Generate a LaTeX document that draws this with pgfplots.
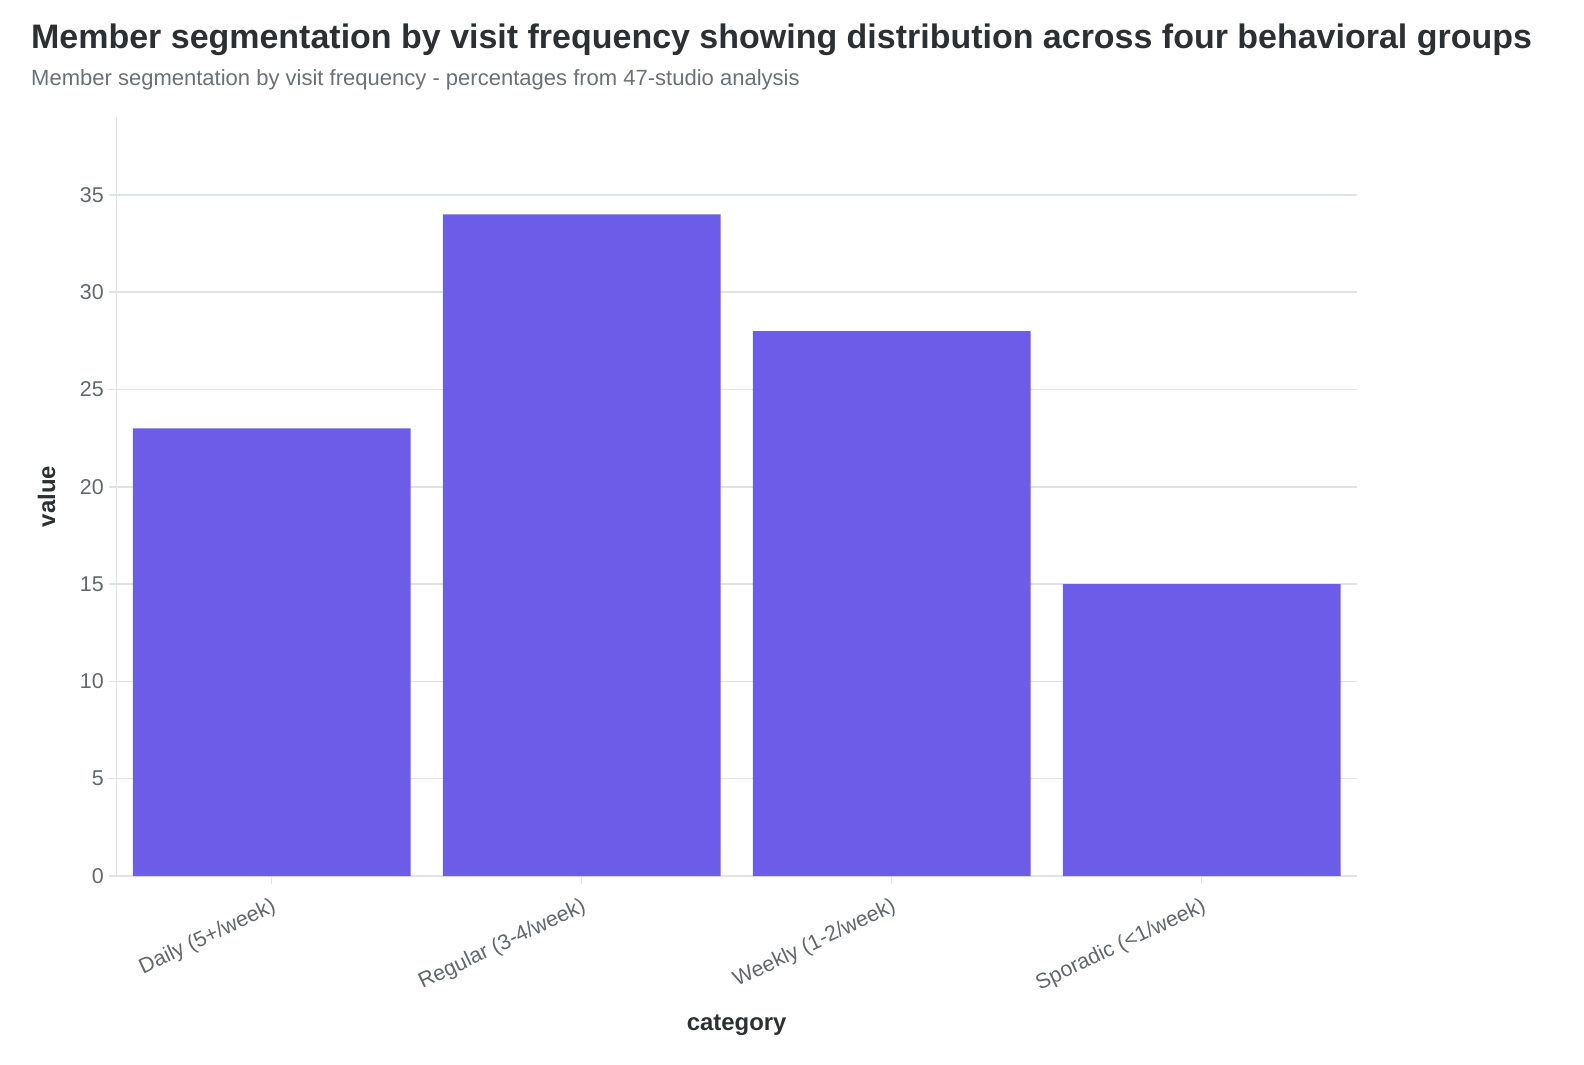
\documentclass[border=0pt]{standalone}
\usepackage{pgfplots}
\usepackage{pgfplotstable}
\pgfplotsset{compat=1.18}
\usepackage{fontspec}
\setmainfont{Liberation Sans}
\definecolor{barc}{HTML}{6C5CE7}
\definecolor{gridc}{HTML}{DFE3E6}
\definecolor{tickc}{HTML}{62676C}
\definecolor{titlec}{HTML}{2D3033}
\definecolor{subc}{HTML}{6B7075}
\pgfplotstableread{
x v
0 23
1 34
2 28
3 15
}\datatable
\begin{document}
\begin{tikzpicture}[x=1bp,y=1bp]
\path[use as bounding box] (0,0) rectangle (1584,1064);
\node[anchor=base west, inner sep=0pt, font=\fontsize{34.1}{40}\selectfont\bfseries, text=titlec] at (31,1064-48.5) {Member segmentation by visit frequency showing distribution across four behavioral groups};
\node[anchor=base west, inner sep=0pt, font=\fontsize{22.1}{26}\selectfont, text=subc] at (31,1064-86) {Member segmentation by visit frequency - percentages from 47-studio analysis};
\begin{axis}[
  at={(116.7bp,188bp)}, anchor=south west,
  width=1240bp, height=759bp, scale only axis,
  xmin=-0.5, xmax=3.5, ymin=0, ymax=39,
  ybar, bar width=0.896, bar shift=0pt,
  xtick={0,1,2,3},
  xticklabels={Daily (5+/week), Regular (3-4/week), Weekly (1-2/week), Sporadic (<1/week)},
  ytick={0,5,10,15,20,25,30,35},
  /pgf/number format/assume math mode=true,
  axis x line*=bottom, axis y line*=left,
  axis line style={gridc, line width=1.5bp},
  every tick/.style={gridc, line width=1.5bp},
  major tick length=8bp,
  tick align=outside,
  ymajorgrids, grid style={gridc, line width=1.5bp},
  yticklabel style={font=\fontsize{21.5}{25}\selectfont, text=tickc, xshift=-1.5bp},
  xticklabel style={font=\fontsize{21.5}{25}\selectfont, text=tickc, rotate=25.5, anchor=north east, inner sep=0pt, xshift=-6.5bp, yshift=-10.5bp},
  xlabel={category}, ylabel={value},
  xlabel style={font=\fontsize{24}{28}\selectfont\bfseries, text=titlec, at={(axis description cs:0.5,-0.1965)}, anchor=center},
  ylabel style={font=\fontsize{24}{28}\selectfont\bfseries, text=titlec, at={(axis description cs:-0.0565,0.5)}, anchor=center, rotate=0},
]
\addplot[fill=barc, draw=none] table[x=x, y=v] {\datatable};
\end{axis}
\end{tikzpicture}
\end{document}
